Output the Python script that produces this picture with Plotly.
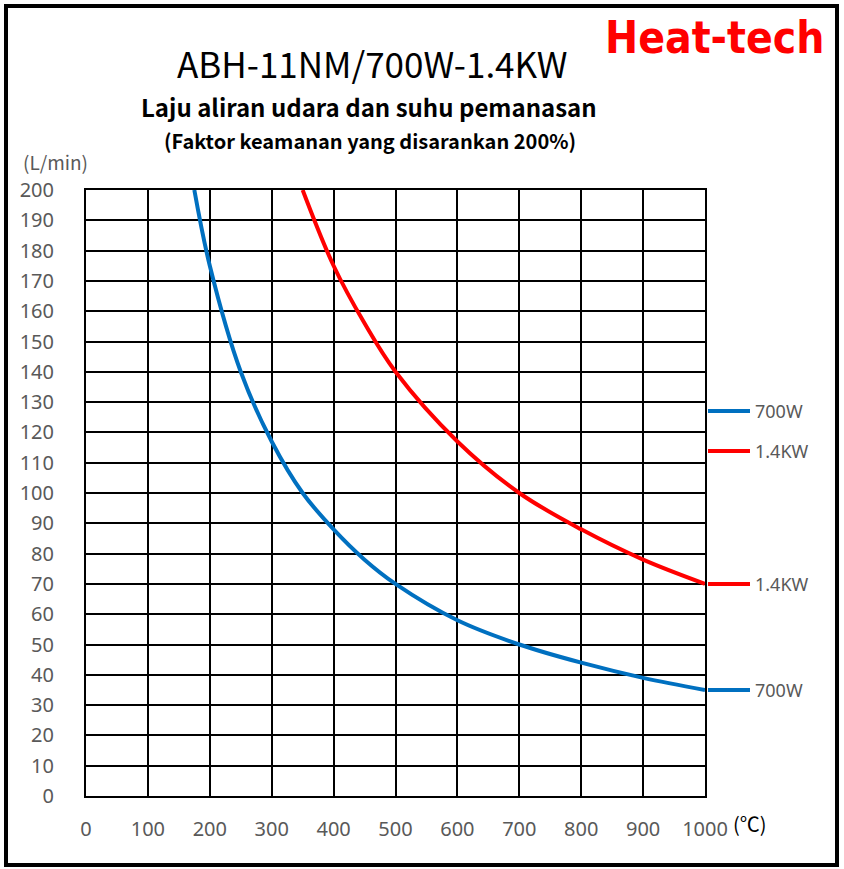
import plotly.graph_objects as go

# 700W curve
temp_700 = [175, 200, 250, 300, 350, 400, 450, 500, 600, 700, 800, 900, 1000]
flow_700 = [200, 175, 140, 117, 100, 88, 78, 70, 58, 50, 44, 39, 35]

# 1.4KW curve
temp_1400 = [350, 400, 450, 500, 600, 700, 800, 900, 1000]
flow_1400 = [200, 175, 156, 140, 117, 100, 88, 78, 70]

x_ticks = list(range(0, 1001, 100))
y_ticks = list(range(0, 201, 10))

BLUE = "#0070C0"
RED = "#FF0000"
GRAY = "#595959"
FONT = "Noto Sans CJK JP"

W, H = 844, 869
L, R, T, B = 86, 705, 190, 796


def px(x):
    return (x - L) / (R - L)


def py(y):
    return (B - y) / (B - T)


def label(x, y, text, size, color="black", family=FONT, anchor="center"):
    fig.add_annotation(xref="paper", yref="paper", x=px(x), y=py(y), text=text, showarrow=False,
                       xanchor=anchor, yanchor="middle", font=dict(size=size, color=color, family=family))


fig = go.Figure()
series = [("700W", temp_700, flow_700, BLUE, 411), ("1.4KW", temp_1400, flow_1400, RED, 451)]
for name, xs, ys, col, leg_y in series:
    fig.add_trace(go.Scatter(x=xs, y=ys, mode="lines", name=name, showlegend=False,
                             line=dict(color=col, width=4, shape="spline", smoothing=1.0)))
    # legend entry at top right
    fig.add_shape(type="line", xref="paper", yref="paper", x0=px(708), x1=px(750), y0=py(leg_y), y1=py(leg_y),
                  line=dict(color=col, width=4))
    label(753, leg_y, name, 18, GRAY, "Noto Sans", "left")
    # end-of-line label
    fig.add_shape(type="line", xref="paper", yref="y", x0=px(708), x1=px(750), y0=ys[-1], y1=ys[-1],
                  line=dict(color=col, width=4))
    fig.add_annotation(xref="paper", yref="y", x=px(753), y=ys[-1], text=name, showarrow=False,
                       xanchor="left", yanchor="middle", font=dict(size=18, color=GRAY, family="Noto Sans"))

# outer frame
fig.add_shape(type="rect", xref="paper", yref="paper", x0=px(6), x1=px(837), y0=py(865), y1=py(6),
              line=dict(color="black", width=4))

label(372, 63, "ABH-11NM/700W-1.4KW", 35)
label(369, 107, "<b>Laju aliran udara dan suhu pemanasan</b>", 24)
label(370, 140, "<b>(Faktor keamanan yang disarankan 200%)</b>", 20)
label(714, 37, "<b>Heat-tech</b>", 44, RED, "DejaVu Sans Condensed")
label(55, 161, "(L/min)", 19, GRAY)
label(750, 824, "(℃)", 20)

fig.update_xaxes(range=[0, 1000], tickvals=x_ticks, showgrid=True, gridcolor="black", gridwidth=1.5,
                 showline=True, linecolor="black", linewidth=2, mirror=True, zeroline=False,
                 ticks="", ticklabelstandoff=14, tickfont=dict(size=20, color=GRAY, family="Noto Sans"))
fig.update_yaxes(range=[0, 200], tickvals=y_ticks, showgrid=True, gridcolor="black", gridwidth=1.5,
                 showline=True, linecolor="black", linewidth=2, mirror=True, zeroline=False,
                 ticks="", ticklabelstandoff=26, tickfont=dict(size=20, color=GRAY, family="Noto Sans"))

fig.update_layout(
    width=W, height=H,
    margin=dict(l=L, r=W - R, t=T, b=H - B),
    paper_bgcolor="white", plot_bgcolor="white",
    showlegend=False,
)

fig.write_html("out.html", config={"displayModeBar": False},
               post_script="document.body.style.margin='0';")
